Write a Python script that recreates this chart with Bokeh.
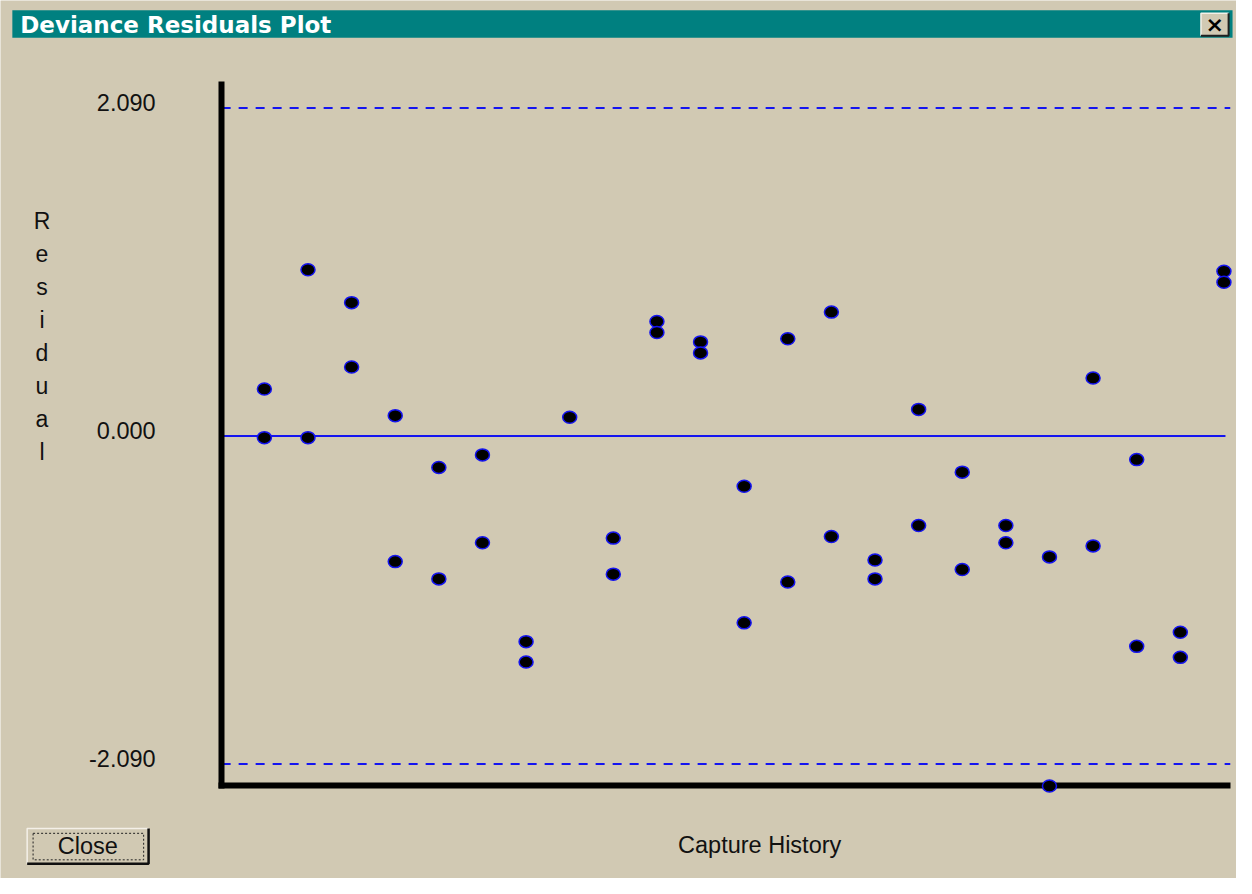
from bokeh.plotting import figure
from bokeh.models import (Label, FixedTicker, PrintfTickFormatter, ColumnDataSource,
                          Range1d, LinearAxis)
from bokeh.embed import file_html
from bokeh.resources import INLINE
from bokeh.core.properties import value

# ---------------- data ----------------
title_text = "Deviance Residuals Plot"
x_label = "Capture History"
y_label = "Residual"
button_text = "Close"

history = [1, 1, 2, 2, 3, 3, 4, 4, 5, 5, 6, 6, 7, 7, 8, 9, 9, 10, 10, 11, 11,
           12, 12, 13, 13, 14, 14, 15, 15, 16, 16, 17, 17, 18, 18, 19, 19,
           20, 20, 21, 21, 22, 22, 23, 23]
residual = [0.30, -0.01, 1.06, -0.01, 0.85, 0.44, 0.13, -0.80, -0.20, -0.91,
            -0.12, -0.68, -1.31, -1.44, 0.12, -0.65, -0.88, 0.73, 0.66,
            0.60, 0.53, -0.32, -1.19, 0.62, -0.93, 0.79, -0.64, -0.79, -0.91,
            0.17, -0.57, -0.23, -0.85, -0.57, -0.68, -0.77, -2.23,
            0.37, -0.70, -0.15, -1.34, -1.25, -1.41, 1.05, 0.98]
y_ticks = [-2.09, 0.0, 2.09]

# ---------------- style ----------------
BG = "#D1C9B3"
TEAL = "#008080"
BLUE = "#1414F0"
FONT = "Liberation Sans"
W, H = 1236, 878            # canvas size
RW, RH = 1252, 894          # window (decoration) coordinate system

# data extent of the plotting area (axes corner and far ends)
x_axis_at, x_end = 0.02, 23.085
y_axis_at, y_top = -2.2247, 2.2372
y_lo, y_hi = -2.8191, 2.7753
label_lift = 0.035          # tick labels sit slightly above their lines

p = figure(width=W, height=H,
           x_range=Range1d(-5.05, 23.288), y_range=Range1d(y_lo, y_hi),
           toolbar_location=None, output_backend="svg", title=None,
           min_border=0, min_border_left=0, min_border_right=0,
           min_border_top=0, min_border_bottom=0,
           background_fill_color=BG, border_fill_color=BG, outline_line_color=None)
p.xgrid.visible = False
p.ygrid.visible = False
# window coordinate system for decorations (origin top-left)
p.extra_x_ranges = {"px": Range1d(0, RW)}
p.extra_y_ranges = {"px": Range1d(RH, 0),
                    "ticks": Range1d(y_lo - label_lift, y_hi - label_lift)}

xa = p.xaxis[0]
xa.fixed_location = y_axis_at
xa.bounds = (x_axis_at, x_end)
xa.ticker = FixedTicker(ticks=[])
xa.major_label_text_font_size = "0px"
xa.axis_line_width = 6
xa.axis_line_color = "black"
xa.axis_line_cap = "square"
xa.major_tick_line_color = None
xa.minor_tick_line_color = None

ya = p.yaxis[0]
ya.fixed_location = x_axis_at
ya.bounds = (y_axis_at, y_top)
ya.ticker = FixedTicker(ticks=[])
ya.major_label_text_font_size = "0px"
ya.axis_line_width = 6
ya.axis_line_color = "black"
ya.axis_line_cap = "square"
ya.major_tick_line_color = None
ya.minor_tick_line_color = None

# tick label axis
yl = LinearAxis(y_range_name="ticks", fixed_location=x_axis_at,
                ticker=FixedTicker(ticks=y_ticks),
                formatter=PrintfTickFormatter(format="%.3f"),
                axis_line_color=None, major_tick_line_color=None,
                minor_tick_line_color=None, major_label_standoff=60,
                major_label_text_font=FONT, major_label_text_font_size="23.5px",
                major_label_text_color="#111111")
p.add_layout(yl, "left")

# reference lines at the bounds and at zero
bound = y_ticks[-1]
p.segment(x0=[x_axis_at] * 2, y0=[bound, -bound], x1=[x_end + 0.06] * 2, y1=[bound, -bound],
          line_color=BLUE, line_width=2, line_dash="9 8", level="underlay")
p.segment(x0=[x_axis_at], y0=[0.0], x1=[x_end - 0.05], y1=[0.0],
          line_color=BLUE, line_width=2, level="underlay")

src = ColumnDataSource(dict(x=history, y=residual))
p.ellipse(x="x", y="y", width=14, height=12, width_units="screen", height_units="screen",
          fill_color="black", line_color=BLUE, line_width=1.5, source=src, level="overlay")

# ---------------- window decorations (window coords) ----------------
dec = dict(x_range_name="px", y_range_name="px")
p.quad(left=[12], right=[1248], top=[10], bottom=[38], fill_color=TEAL, line_color=None, **dec)
p.text(x=[20], y=[25], text=[title_text], text_color="white",
       text_font=value("DejaVu Sans"), text_font_style="bold",
       text_font_size="23px", text_baseline="alphabetic", **dec)
# close-box button
p.quad(left=[1216], right=[1244], top=[13], bottom=[36], fill_color=BG, line_color=None, **dec)
p.multi_line(xs=[[1216, 1216, 1244], [1216, 1244, 1244]], ys=[[36, 13, 13], [36, 36, 13]],
             line_color=["#F4F0E8", "#202020"], line_width=[1.5, 2], **dec)
p.text(x=[1230], y=[24.5], text=["\u00d7"], text_color="black",
       text_font=value("DejaVu Sans"), text_font_style="bold",
       text_font_size="22px", text_align="center", text_baseline="middle", **dec)

# vertical stacked y label
p.add_layout(Label(x=42, y=211, text="\n".join(y_label), text_align="center",
                   text_baseline="top", text_font=FONT, text_font_size="23px",
                   text_color="#111111", text_line_height=1.27, **dec))

# x label
p.add_layout(Label(x=769, y=860, text=x_label, text_align="center",
                   text_baseline="alphabetic", text_font=FONT, text_font_size="23.5px",
                   text_color="#111111", **dec))

# Close button
p.quad(left=[27], right=[150], top=[843], bottom=[879], fill_color=BG, line_color=None, **dec)
p.multi_line(xs=[[27, 27, 150], [27, 150, 150]], ys=[[879, 843, 843], [879, 879, 843]],
             line_color=["#F4F0E8", "#101010"], line_width=[1.5, 2.5], **dec)
p.quad(left=[33], right=[145], top=[848], bottom=[875], fill_color=None,
       line_color="#222222", line_width=1, line_dash="2 2", **dec)
p.add_layout(Label(x=88.5, y=861, text=button_text, text_align="center",
                   text_baseline="middle", text_font=FONT, text_font_size="23.5px",
                   text_color="#111111", **dec))

open("out.html", "w").write(file_html(p, INLINE))
